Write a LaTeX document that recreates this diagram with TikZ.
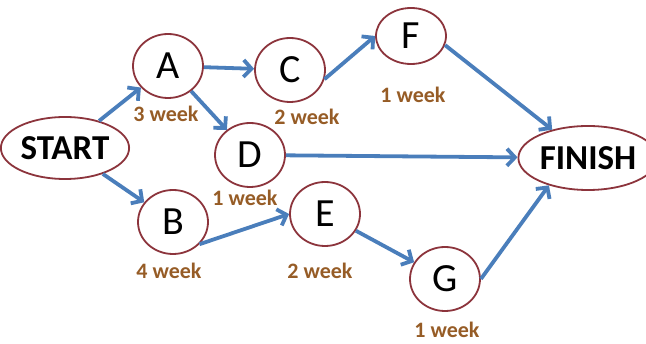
\documentclass[tikz,border=0pt]{standalone}
\usepackage{fontspec}
\setmainfont{Carlito}
\usetikzlibrary{shapes.geometric,arrows.meta}
\definecolor{ringred}{RGB}{140,52,60}
\definecolor{arrowblue}{RGB}{74,126,187}
\definecolor{weekbrown}{RGB}{150,92,38}
\begin{document}
\begin{tikzpicture}[x=1pt,y=-1pt,
  task/.style={ellipse,draw=ringred,line width=1.8pt,fill=white,inner sep=0pt,
    minimum width=70pt,minimum height=64pt,font=\fontsize{40}{40}\selectfont},
  ends/.style={ellipse,draw=ringred,line width=1.8pt,fill=white,inner sep=1pt,
    minimum width=106pt,minimum height=62pt,font=\fontsize{35}{35}\selectfont\bfseries},
  dur/.style={text=weekbrown,font=\fontsize{22}{22}\selectfont\bfseries},
  link/.style={draw=arrowblue,line width=3.8pt,-{Straight Barb[length=8pt,width=17pt]}}]
\useasboundingbox (0,0) rectangle (646,344);

\node[ends] (start) at (65,148) {START};
\node[ends,minimum width=116pt,minimum height=64pt] (finish) at (588,158) {FINISH};

\node[task] (a) at (168,66) {A};
\node[task] (c) at (290,70) {C};
\node[task,minimum height=56pt] (f) at (411,36) {F};
\node[task] (d) at (250,155) {D};
\node[task] (b) at (173,222) {B};
\node[task] (e) at (325,214) {E};
\node[task] (g) at (445,279) {G};

\node[dur] (la) at (166,114) {3 week};
\node[dur] (lc) at (307,117) {2 week};
\node[dur] (lf) at (413,95) {1 week};
\node[dur] (ld) at (245,198) {1 week};
\node[dur] (lb) at (169,271) {4 week};
\node[dur] (le) at (320,271) {2 week};
\node[dur] (lg) at (447,330) {1 week};

\path[link] (start) -- (a);
\path[link] (start) -- (b);
\path[link] (a) -- (c);
\path[link] (a) -- (d);
\path[link] (c.-15) -- (f.west);
\path[link] (f.-15) -- (finish);
\path[link] (d) -- (finish);
\path[link] (b.-40) -- (e.west);
\path[link] (e) -- (g);
\path[link] (g.east) -- (finish.-145);

\end{tikzpicture}
\end{document}
